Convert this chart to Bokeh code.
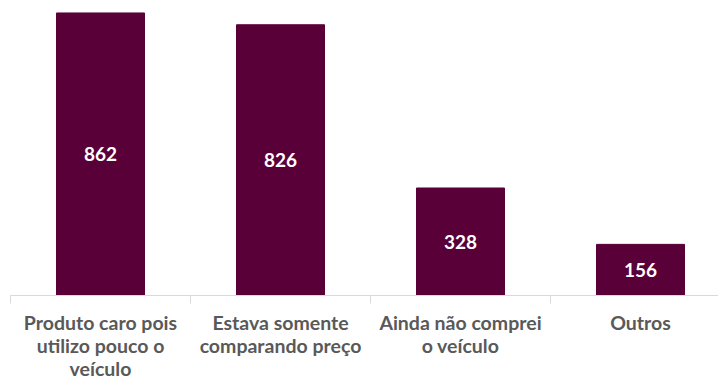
from bokeh.plotting import figure
from bokeh.models import Range1d, LinearAxis, FixedTicker, ColumnDataSource, LabelSet
from bokeh.core.properties import value
from bokeh.embed import file_html
from bokeh.resources import INLINE

categories = ["Produto caro pois\nutilizo pouco o\nveículo",
              "Estava somente\ncomparando preço",
              "Ainda não comprei\no veículo",
              "Outros"]
values = [862, 826, 328, 156]

BAR = "#5A0039"
GRAY = "#595959"
FONT = "Lato"

xs = [i + 0.5 for i in range(len(categories))]
src = ColumnDataSource(dict(x=xs, top=values, mid=[v / 2 for v in values],
                            lab=[str(v) for v in values]))

p = figure(width=718, height=383, output_backend="svg", toolbar_location=None,
           x_range=Range1d(0, 708 / 180), y_range=Range1d(0, 900),
           x_axis_location=None, y_axis_location=None,
           min_border_left=10, min_border_right=0, min_border_top=0,
           min_border_bottom=0)
p.outline_line_color = None
p.xgrid.visible = False
p.ygrid.visible = False
p.background_fill_color = "white"
p.border_fill_color = "white"

p.vbar(x="x", top="top", bottom=0, width=88 / 180, source=src,
       fill_color=BAR, line_color=BAR)

labels = LabelSet(x="x", y="mid", text="lab", source=src, text_align="center",
                  text_baseline="middle", text_color="white",
                  text_font=value(FONT), text_font_style="bold",
                  text_font_size="19px")
p.add_layout(labels)

ax = LinearAxis(ticker=FixedTicker(ticks=xs, minor_ticks=list(range(len(categories) + 1))))
ax.major_label_overrides = {x: c for x, c in zip(xs, categories)}
ax.major_tick_out = 0
ax.major_tick_in = 0
ax.minor_tick_out = 8
ax.minor_tick_in = 0
ax.axis_line_color = "#D9D9D9"
ax.minor_tick_line_color = "#D9D9D9"
ax.major_label_text_font = FONT
ax.major_label_text_font_style = "bold"
ax.major_label_text_font_size = "19.5px"
ax.major_label_text_color = GRAY
ax.major_label_standoff = 7
ax.major_label_text_line_height = 1.02
p.add_layout(ax, "below")

open("out.html", "w").write(file_html(p, INLINE))
